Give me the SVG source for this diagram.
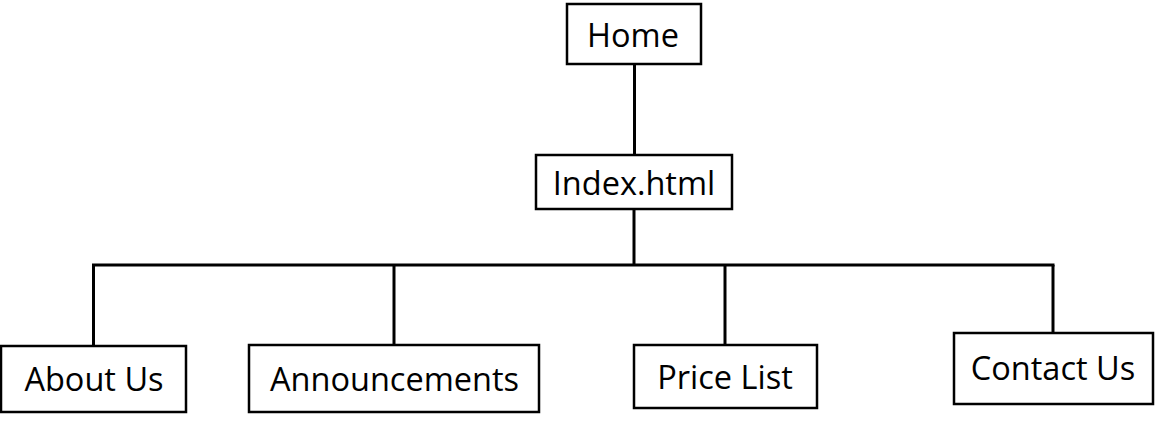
<svg xmlns="http://www.w3.org/2000/svg" width="1159" height="425" viewBox="0 0 1159 425">
<style>
.box{fill:#fff;stroke:#000;stroke-width:2.5}
.lbl{font-family:"Open Sans","Liberation Sans",sans-serif;font-size:32.5px;fill:#000;text-anchor:middle}
.con{stroke:#000;stroke-width:3;fill:none}
</style>
<rect width="1159" height="425" fill="#fff"/>
<g id="connectors">
<line class="con" x1="634.5" y1="64" x2="634.5" y2="155"/>
<line class="con" x1="634" y1="209" x2="634" y2="265"/>
<line class="con" x1="92" y1="265" x2="1054.5" y2="265"/>
<line class="con" x1="93.5" y1="265" x2="93.5" y2="346"/>
<line class="con" x1="394" y1="265" x2="394" y2="345"/>
<line class="con" x1="725" y1="265" x2="725" y2="346"/>
<line class="con" x1="1053" y1="265" x2="1053" y2="334"/>
</g>
<g id="home"><rect class="box" x="567" y="4" width="134" height="60"/><text class="lbl" x="633" y="47">Home</text></g>
<g id="index"><rect class="box" x="536" y="155" width="196" height="54"/><text class="lbl" x="634" y="195">Index.html</text></g>
<g id="about"><rect class="box" x="1" y="346" width="185" height="66"/><text class="lbl" x="94" y="391">About Us</text></g>
<g id="announcements"><rect class="box" x="249" y="345" width="290" height="67"/><text class="lbl" x="394.5" y="391">Announcements</text></g>
<g id="pricelist"><rect class="box" x="634" y="345" width="183" height="63"/><text class="lbl" x="725" y="389">Price List</text></g>
<g id="contact"><rect class="box" x="954" y="333" width="199" height="71"/><text class="lbl" x="1053" y="380">Contact Us</text></g>
</svg>
